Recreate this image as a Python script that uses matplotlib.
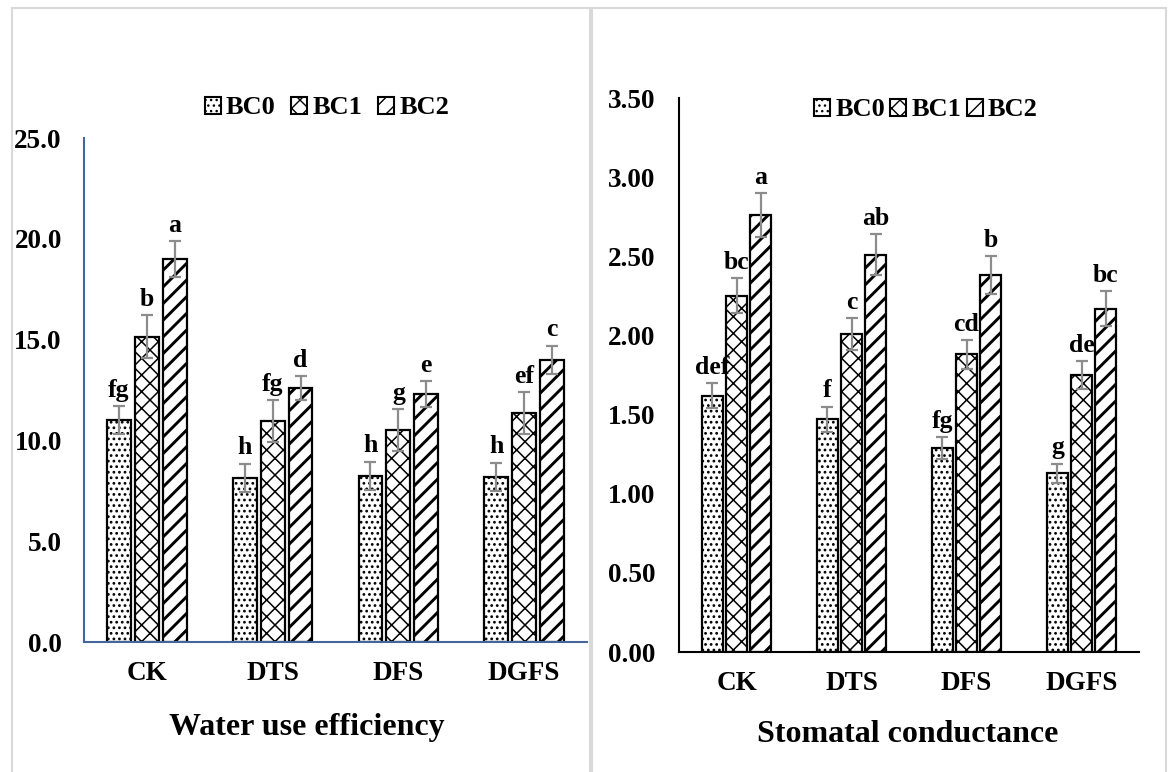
import numpy as np
import matplotlib
matplotlib.use("Agg")
import matplotlib.pyplot as plt
from matplotlib.patches import Rectangle, Patch
from matplotlib.ticker import FormatStrFormatter

categories = ["CK", "DTS", "DFS", "DGFS"]
series = ["BC0", "BC1", "BC2"]

# water use efficiency
wue_bc0 = [11.0, 8.15, 8.25, 8.2]
wue_bc1 = [15.15, 10.95, 10.5, 11.35]
wue_bc2 = [19.0, 12.6, 12.3, 14.0]
wue_err_bc0 = [0.7, 0.7, 0.7, 0.7]
wue_err_bc1 = [1.05, 1.05, 1.05, 1.05]
wue_err_bc2 = [0.9, 0.6, 0.65, 0.7]
wue_letters_bc0 = ["fg", "h", "h", "h"]
wue_letters_bc1 = ["b", "fg", "g", "ef"]
wue_letters_bc2 = ["a", "d", "e", "c"]

# stomatal conductance
gs_bc0 = [1.62, 1.47, 1.29, 1.13]
gs_bc1 = [2.25, 2.01, 1.88, 1.75]
gs_bc2 = [2.76, 2.51, 2.38, 2.17]
gs_err_bc0 = [0.08, 0.08, 0.07, 0.06]
gs_err_bc1 = [0.11, 0.10, 0.09, 0.09]
gs_err_bc2 = [0.14, 0.13, 0.12, 0.11]
gs_letters_bc0 = ["def", "f", "fg", "g"]
gs_letters_bc1 = ["bc", "c", "cd", "de"]
gs_letters_bc2 = ["a", "ab", "b", "bc"]

hatches = ["...", "xx", "//"]
hatchWidths = [1.2, 1.1, 2.1]

plt.rcParams["font.family"] = ["Liberation Serif", "DejaVu Serif"]
plt.rcParams["font.weight"] = "bold"

W, H = 1171, 772
fig = plt.figure(figsize=(W / 100, H / 100), dpi=100)

# light grey frames around the two panels
fig.patches.append(Rectangle((12 / W, -0.01), 578 / W, 1 - 8 / H + 0.01, transform=fig.transFigure,
                             fill=False, edgecolor="#d9d9d9", linewidth=1.5))
fig.patches.append(Rectangle((592 / W, -0.01), 574 / W, 1 - 8 / H + 0.01, transform=fig.transFigure,
                             fill=False, edgecolor="#d9d9d9", linewidth=1.5))


def drawPanel(ax, values, errs, letters, ymax, ystep, fmt, spineColor, barWidth, barStep, tickPad):
  x = np.arange(len(categories))
  for i in range(len(series)):
    pos = x + (i - 1) * barStep
    with plt.rc_context({"hatch.linewidth": hatchWidths[i]}):
      bars = ax.bar(pos, values[i], barWidth, color="white", edgecolor="black",
                    linewidth=1.6, hatch=hatches[i], zorder=2)
    for b in bars:
      if hasattr(b, "set_hatch_linewidth"):
        b.set_hatch_linewidth(hatchWidths[i])
    ax.errorbar(pos, values[i], yerr=errs[i], fmt="none", ecolor="#8c8c8c",
                elinewidth=1.6, capsize=4.5, capthick=1.6, zorder=3)
    for j in range(len(categories)):
      ax.annotate(letters[i][j], (pos[j], values[i][j] + errs[i][j]), xytext=(0, 3),
                  textcoords="offset points", ha="center", va="bottom",
                  fontsize=18.5, fontweight="bold")
  ax.set_xlim(-0.5, len(categories) - 0.5)
  ax.set_ylim(0, ymax)
  ax.set_yticks(np.arange(0, ymax + ystep / 2, ystep))
  ax.yaxis.set_major_formatter(FormatStrFormatter(fmt))
  ax.set_xticks(x)
  ax.set_xticklabels(categories)
  ax.tick_params(axis="x", length=0, pad=14, labelsize=19.5)
  ax.tick_params(axis="y", length=0, pad=tickPad, labelsize=19.5)
  for s in ["top", "right"]:
    ax.spines[s].set_visible(False)
  for s in ["left", "bottom"]:
    ax.spines[s].set_color(spineColor)
    ax.spines[s].set_linewidth(1.5)


axLeft = fig.add_axes([84 / W, 1 - 642 / H, 503 / W, 504 / H])
drawPanel(axLeft, [wue_bc0, wue_bc1, wue_bc2], [wue_err_bc0, wue_err_bc1, wue_err_bc2],
          [wue_letters_bc0, wue_letters_bc1, wue_letters_bc2], 25, 5, "%.1f",
          "#44679b", 0.19, 0.222, 16)

axRight = fig.add_axes([679 / W, 1 - 652 / H, 460 / W, 554 / H])
drawPanel(axRight, [gs_bc0, gs_bc1, gs_bc2], [gs_err_bc0, gs_err_bc1, gs_err_bc2],
          [gs_letters_bc0, gs_letters_bc1, gs_letters_bc2], 3.5, 0.5, "%.2f",
          "black", 0.175, 0.209, 17)

handles = []
for i in range(len(series)):
  with plt.rc_context({"hatch.linewidth": hatchWidths[i]}):
    p = Patch(facecolor="white", edgecolor="black", linewidth=1.5, hatch=hatches[i], label=series[i])
  handles.append(p)

fig.legend(handles=handles, loc="center", bbox_to_anchor=(327 / W, 1 - 108 / H), ncol=3,
           frameon=False, handlelength=0.6, handleheight=0.6, handletextpad=0.2,
           columnspacing=0.6, prop={"size": 19, "weight": "bold"})
fig.legend(handles=handles, loc="center", bbox_to_anchor=(926 / W, 1 - 110 / H), ncol=3,
           frameon=False, handlelength=0.6, handleheight=0.6, handletextpad=0.2,
           columnspacing=0.2, prop={"size": 19, "weight": "bold"})

fig.text(307 / W, 1 - 727 / H, "Water use efficiency", ha="center", va="center",
         fontsize=23, fontweight="bold")
fig.text(908 / W, 1 - 735 / H, "Stomatal conductance", ha="center", va="center",
         fontsize=23, fontweight="bold")

fig.savefig("out.png", dpi=100)
